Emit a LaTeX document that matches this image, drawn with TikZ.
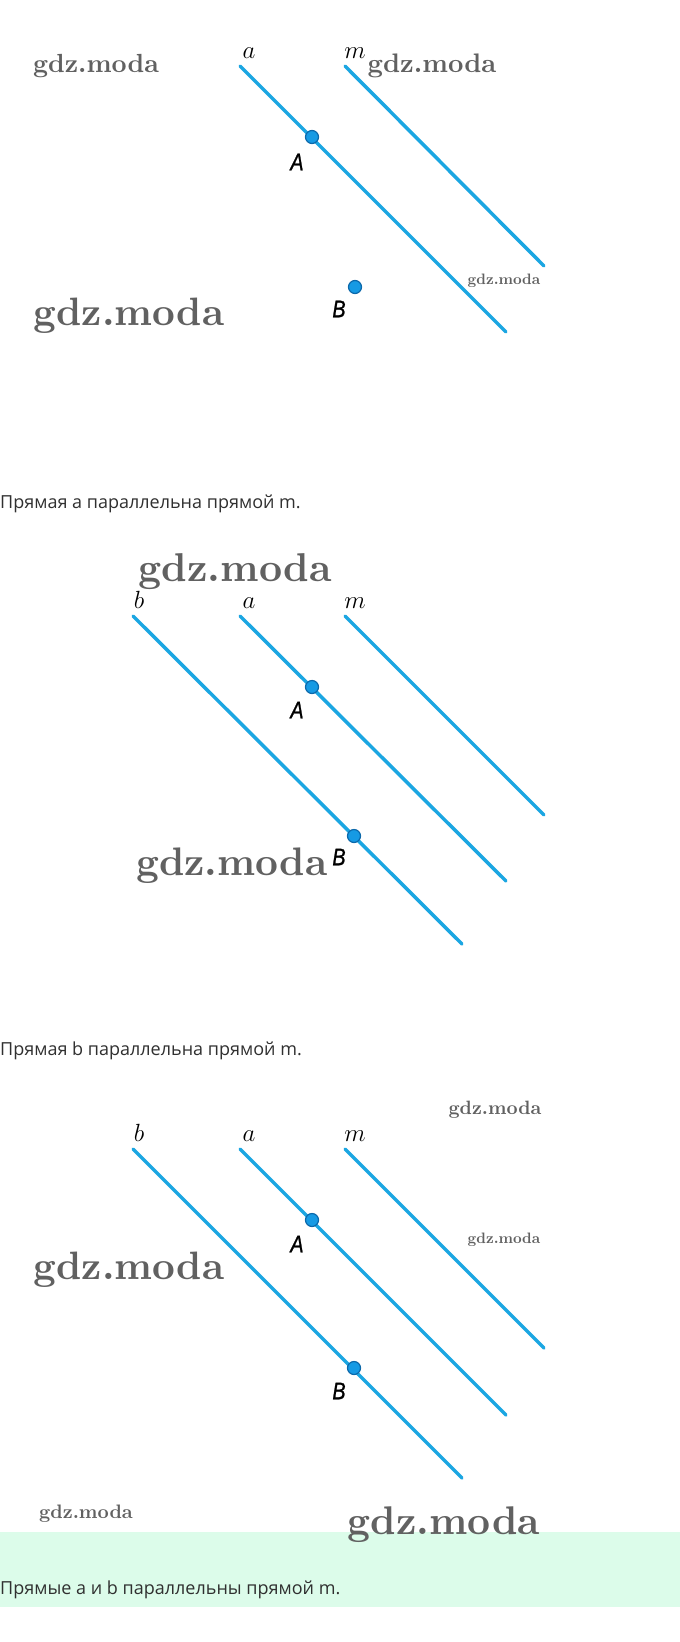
\documentclass[tikz,border=0pt]{standalone}
\usepackage{fontspec}
\newfontfamily\capfont{Open Sans}
\newfontfamily\ptfont[ItalicFeatures={FakeBold=1.2}]{Liberation Sans}
\definecolor{lineblue}{RGB}{27,166,226}
\definecolor{ptblue}{RGB}{22,154,228}
\definecolor{ptdark}{RGB}{12,104,170}
\definecolor{capgray}{RGB}{48,48,48}
\definecolor{bandgreen}{RGB}{220,252,234}
\tikzset{
  gline/.style={draw=lineblue, line width=3.5pt, line cap=round},
  gpt/.style={circle, fill=ptblue, draw=ptdark, line width=1.2pt, inner sep=0pt, minimum size=13pt},
  mlbl/.style={font=\fontsize{24}{26}\selectfont, inner sep=0pt, anchor=base},
  ptlbl/.style={font=\ptfont\itshape\fontsize{24}{26}\selectfont, inner sep=0pt, xscale=0.82},
  wm/.style={font=\bfseries\fontsize{10}{12}\selectfont, text=black!62, inner sep=0pt},
  captxt/.style={font=\capfont\fontsize{18}{20}\selectfont, text=capgray, anchor=west, inner sep=0pt}
}
\begin{document}
\begin{tikzpicture}[x=1pt,y=-1pt]
\useasboundingbox (0,0) rectangle (680,1642);
\fill[white] (0,0) rectangle (680,1642);
% green band
\fill[bandgreen] (0,1532) rectangle (680,1607);

% ---------- panel 1 ----------
\coordinate (a1s) at (240,66); \coordinate (a1e) at (506,332);
\coordinate (m1s) at (345,66); \coordinate (m1e) at (544,266);
\draw[gline] (a1s) -- (a1e);
\draw[gline] (m1s) -- (m1e);
\node[mlbl] (la1) at (249,58) {$a$};
\node[mlbl] (lm1) at (355,58) {$m$};
\node[gpt] (A1) at (312,137) {};
\node[ptlbl] (lA1) at (297,162) {A};
\node[gpt] (B1) at (355,287) {};
\node[ptlbl] (lB1) at (339,309) {B};
\node[wm, scale=2.62] (w1) at (96,66) {gdz.moda};
\node[wm, scale=2.68] (w2) at (432,66) {gdz.moda};
\node[wm, scale=1.51] (w3) at (504,281) {gdz.moda};
\node[wm, scale=3.96] (w4) at (129,316) {gdz.moda};
\node[captxt] (c1) at (0,504) {Прямая a параллельна прямой m.};

% ---------- panel 2 ----------
\begin{scope}[shift={(0,550)}]
\coordinate (b2s) at (133,66); \coordinate (b2e) at (462,394);
\coordinate (a2s) at (240,66); \coordinate (a2e) at (506,331);
\coordinate (m2s) at (345,66); \coordinate (m2e) at (544,265);
\draw[gline] (b2s) -- (b2e);
\draw[gline] (a2s) -- (a2e);
\draw[gline] (m2s) -- (m2e);
\node[mlbl] (lb2) at (139,58) {$b$};
\node[mlbl] (la2) at (249,58) {$a$};
\node[mlbl] (lm2) at (355,58) {$m$};
\node[gpt] (A2) at (312,137) {};
\node[ptlbl] (lA2) at (297,160) {A};
\node[gpt] (B2) at (354,286) {};
\node[ptlbl] (lB2) at (339,307) {B};
\end{scope}
\node[wm, scale=4.02] (w5) at (235,572) {gdz.moda};
\node[wm, scale=3.98] (w6) at (232,866) {gdz.moda};
\node[captxt] (c2) at (0,1051) {Прямая b параллельна прямой m.};

% ---------- panel 3 ----------
\begin{scope}[shift={(0,1083)}]
\coordinate (b3s) at (133,66); \coordinate (b3e) at (462,395);
\coordinate (a3s) at (240,66); \coordinate (a3e) at (506,332);
\coordinate (m3s) at (345,66); \coordinate (m3e) at (544,265);
\draw[gline] (b3s) -- (b3e);
\draw[gline] (a3s) -- (a3e);
\draw[gline] (m3s) -- (m3e);
\node[mlbl] (lb3) at (139,58) {$b$};
\node[mlbl] (la3) at (249,58) {$a$};
\node[mlbl] (lm3) at (355,58) {$m$};
\node[gpt] (A3) at (312,137) {};
\node[ptlbl] (lA3) at (297,161) {A};
\node[gpt] (B3) at (354,285) {};
\node[ptlbl] (lB3) at (339,308) {B};
\end{scope}
\node[wm, scale=1.93] (w7) at (495,1110) {gdz.moda};
\node[wm, scale=1.51] (w8) at (504,1240) {gdz.moda};
\node[wm, scale=3.96] (w9) at (129,1270) {gdz.moda};
\node[wm, scale=1.95] (w10) at (86,1514) {gdz.moda};
\node[wm, scale=4.0] (w11) at (444,1525) {gdz.moda};
\node[captxt] (c3) at (0,1590) {Прямые a и b параллельны прямой m.};
\end{tikzpicture}
\end{document}
